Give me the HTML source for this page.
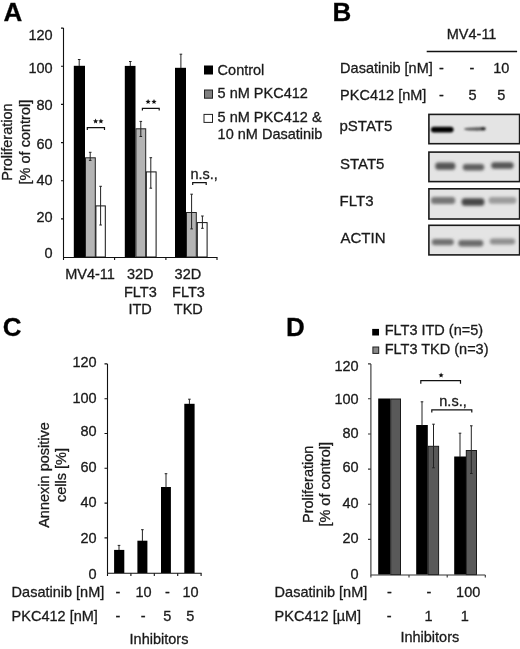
<!DOCTYPE html>
<html><head><meta charset="utf-8"><style>
html,body{margin:0;padding:0;background:#fff;}
svg{display:block;filter:grayscale(1);}
text{font-family:"Liberation Sans",sans-serif;fill:#1a1a1a;stroke:#1a1a1a;stroke-width:0.3px;}
</style></head><body>
<svg width="520" height="649" viewBox="0 0 520 649" font-size="14.5">
<defs>
<filter id="b1" x="-20%" y="-100%" width="140%" height="300%"><feGaussianBlur stdDeviation="0.8"/></filter>
<filter id="b2" x="-20%" y="-100%" width="140%" height="300%"><feGaussianBlur stdDeviation="1.4"/></filter>
<polygon id="star" fill="#111" points="0,-2.7 0.71,-0.98 2.57,-0.83 1.16,0.38 1.59,2.18 0,1.22 -1.59,2.18 -1.16,0.38 -2.57,-0.83 -0.71,-0.98"/>
<filter id="b3" x="-20%" y="-100%" width="140%" height="300%"><feGaussianBlur stdDeviation="0.9"/></filter>
</defs>
<rect x="0" y="0" width="520" height="649" fill="#fff"/>

<!-- ============ PANEL A ============ -->
<text x="3.5" y="20.5" font-size="26" font-weight="bold" style="fill:#000">A</text>
<g text-anchor="end">
<text x="52.7" y="39.7">120</text>
<text x="52.7" y="73.4">100</text>
<text x="52.7" y="110">80</text>
<text x="52.7" y="148.7">60</text>
<text x="52.7" y="185.3">40</text>
<text x="52.7" y="222.3">20</text>
<text x="52.7" y="258.4">0</text>
</g>
<g text-anchor="middle">
<text transform="translate(11.9,142.1) rotate(-90)">Proliferation</text>
<text transform="translate(29.6,142.1) rotate(-90)">[% of control]</text>
</g>
<!-- bars A -->
<g>
<rect x="73.8" y="65.8" width="11.2" height="191.2" fill="#000"/>
<rect x="85.5" y="157.8" width="9.8" height="99.2" fill="#b4b4b4" stroke="#222" stroke-width="1"/>
<rect x="95.9" y="205.9" width="9.4" height="51.1" fill="#fff" stroke="#111" stroke-width="1"/>
<rect x="124.8" y="65.9" width="10.7" height="191.1" fill="#000"/>
<rect x="135.9" y="128.8" width="9.8" height="128.2" fill="#b4b4b4" stroke="#222" stroke-width="1"/>
<rect x="146.3" y="171.9" width="9.8" height="85.1" fill="#fff" stroke="#111" stroke-width="1"/>
<rect x="175" y="67.8" width="11" height="189.2" fill="#000"/>
<rect x="186.5" y="212.5" width="9.8" height="44.5" fill="#b4b4b4" stroke="#222" stroke-width="1"/>
<rect x="197.3" y="222.6" width="9.8" height="34.4" fill="#fff" stroke="#111" stroke-width="1"/>
</g>
<!-- error bars A -->
<g stroke="#222" stroke-width="1" fill="none">
<path d="M79.2 59.5V66 M77.9 59.5H80.5"/>
<path d="M90.2 152.3V160.4 M88.9 152.3H91.5 M88.9 160.4H91.5"/>
<path d="M100.6 186.3V225 M99.3 186.3H101.9 M99.3 225H101.9"/>
<path d="M130.3 61.5V66 M129 61.5H131.6"/>
<path d="M140.8 121.4V136.5 M139.5 121.4H142.1 M139.5 136.5H142.1"/>
<path d="M150.8 157.7V188.2 M149.5 157.7H152.1 M149.5 188.2H152.1"/>
<path d="M180.9 54.2V68 M179.6 54.2H182.2"/>
<path d="M191.6 194.2V228.9 M190.3 194.2H192.9 M190.3 228.9H192.9"/>
<path d="M202.4 216V228.3 M201.1 216H203.7 M201.1 228.3H203.7"/>
</g>
<!-- axes A -->
<g stroke="#111" stroke-width="1.1" fill="none">
<path d="M63.5 28.1V257.5 M63 257.5H217.5"/>
<path d="M61 28.1H63.5 M61 66.3H63.5 M61 104.4H63.5 M61 142.6H63.5 M61 180.7H63.5 M61 218.9H63.5"/>
<path d="M63.5 257.5V260 M114.6 257.5V260 M165.9 257.5V260 M217 257.5V260"/>
</g>
<!-- brackets A -->
<g stroke="#111" stroke-width="1.2" fill="none">
<path d="M87.3 130V127.6H104.5V130"/>
<path d="M142.4 110.6V108.4H159.2V110.6"/>
<path d="M192.7 185V182.7H206.2V185"/>
</g>
<use href="#star" x="95.6" y="121.3"/><use href="#star" x="100.9" y="121.3"/>
<use href="#star" x="148.1" y="101.8"/><use href="#star" x="154" y="101.8"/>
<text x="190.5" y="179">n.s.,</text>
<g text-anchor="middle">
<text x="90" y="278.8">MV4-11</text>
<text x="140.2" y="278.8">32D</text>
<text x="140.4" y="296.5">FLT3</text>
<text x="140.1" y="314">ITD</text>
<text x="187.9" y="278.8">32D</text>
<text x="188.5" y="296.5">FLT3</text>
<text x="188.3" y="314">TKD</text>
</g>
<!-- legend A -->
<rect x="204" y="65.5" width="9" height="9" fill="#000"/>
<rect x="204.5" y="90" width="8" height="8.2" fill="#808080" stroke="#222" stroke-width="1"/>
<rect x="204" y="114.4" width="8.5" height="8" fill="#fff" stroke="#222" stroke-width="1"/>
<text x="217.6" y="74.5">Control</text>
<text x="217.6" y="98">5 nM PKC412</text>
<text x="217.6" y="122.4">5 nM PKC412 &amp;</text>
<text x="217.6" y="139.2">10 nM Dasatinib</text>

<!-- ============ PANEL B ============ -->
<text x="332.4" y="20.5" font-size="26" font-weight="bold" style="fill:#000">B</text>
<text x="471.6" y="38.7" text-anchor="middle">MV4-11</text>
<path d="M426.7 51.5H517.1" stroke="#111" stroke-width="1.4"/>
<text x="340.1" y="73">Dasatinib [nM]</text>
<text x="340.1" y="99.8">PKC412 [nM]</text>
<g text-anchor="middle">
<text x="441.3" y="73">-</text>
<text x="472" y="73">-</text>
<text x="501.3" y="73">10</text>
<text x="441.3" y="99.8">-</text>
<text x="472.6" y="99.8">5</text>
<text x="501.3" y="99.8">5</text>
</g>
<text font-size="15" x="339.5" y="131.4">pSTAT5</text>
<text font-size="15" x="340" y="168.8">STAT5</text>
<text font-size="15" x="339.6" y="206.1">FLT3</text>
<text font-size="15" x="340.5" y="242.8">ACTIN</text>
<!-- blots -->
<g fill="#e4e4e4" stroke="#1a1a1a" stroke-width="1.6">
<rect x="428.9" y="114.4" width="90.7" height="29.3"/>
<rect x="428.9" y="152.1" width="90.7" height="29.5"/>
<rect x="428.9" y="188.8" width="90.7" height="30.2"/>
<rect x="428.9" y="225.3" width="90.7" height="29.6"/>
</g>
<!-- bands -->
<g filter="url(#b1)">
<rect x="430.9" y="126.7" width="22.7" height="5.8" rx="2.9" fill="#000"/>
</g>
<g filter="url(#b3)">
<path d="M464.5 128.2 C470 127.2 477 127.2 482.5 127.2 L482.5 130.6 C477 130.8 470 130.8 464.5 129.8Z" fill="#5a5a5a"/>
<ellipse cx="483.2" cy="128.8" rx="2.6" ry="1.7" fill="#222"/>
</g>
<g filter="url(#b2)">
<rect x="435.3" y="162.4" width="20" height="7.4" rx="3" fill="#555"/>
<rect x="462.8" y="164" width="21.4" height="6.4" rx="3" fill="#5e5e5e"/>
<rect x="491.2" y="162.2" width="22.4" height="6.6" rx="3" fill="#555"/>
<rect x="431" y="197" width="24.2" height="7" rx="3" fill="#767676"/>
<rect x="461.6" y="198.2" width="22.8" height="7.6" rx="3.3" fill="#474747"/>
<rect x="488.6" y="197" width="27.8" height="6.8" rx="3" fill="#9c9c9c"/>
<rect x="431.8" y="239" width="22" height="6.2" rx="3" fill="#707070"/>
<rect x="458.3" y="240.1" width="25" height="6.4" rx="3" fill="#6a6a6a"/>
<rect x="489.8" y="238.4" width="25.4" height="6.2" rx="3" fill="#8e8e8e"/>
</g>

<!-- ============ PANEL C ============ -->
<text x="2.7" y="335.5" font-size="26" font-weight="bold" style="fill:#000">C</text>
<g text-anchor="end">
<text x="96.6" y="366.5">120</text>
<text x="96.6" y="403.1">100</text>
<text x="96.6" y="435.6">80</text>
<text x="96.6" y="471.9">60</text>
<text x="96.6" y="507.1">40</text>
<text x="96.6" y="542.9">20</text>
<text x="96.6" y="578.6">0</text>
</g>
<g text-anchor="middle">
<text transform="translate(48.7,475) rotate(-90)">Annexin positive</text>
<text transform="translate(66,475) rotate(-90)">cells [%]</text>
</g>
<g fill="#000">
<rect x="114.1" y="549.9" width="10.2" height="23.1"/>
<rect x="137.4" y="540.7" width="10" height="32.3"/>
<rect x="161" y="487" width="9.9" height="86"/>
<rect x="184.3" y="403.8" width="10.3" height="169.2"/>
</g>
<g stroke="#222" stroke-width="1" fill="none">
<path d="M119 545.4V550 M117.7 545.4H120.3"/>
<path d="M142.4 529.7V541 M141.1 529.7H143.7"/>
<path d="M166 473.7V487.5 M164.7 473.7H167.3"/>
<path d="M189.4 399.2V404 M188.1 399.2H190.7"/>
</g>
<g stroke="#111" stroke-width="1.1" fill="none">
<path d="M107.5 363.9V573.3 M107 573.3H201.6"/>
<path d="M104.5 363.9H107.5 M104.5 398.7H107.5 M104.5 433.5H107.5 M104.5 468.3H107.5 M104.5 503.1H107.5 M104.5 537.9H107.5"/>
<path d="M107.5 573.3V576 M130.9 573.3V576 M154.3 573.3V576 M177.7 573.3V576 M201.1 573.3V576"/>
</g>
<text x="11.6" y="597.2">Dasatinib [nM]</text>
<text x="11.6" y="621">PKC412 [nM]</text>
<g text-anchor="middle">
<text x="118" y="597.2">-</text>
<text x="143.6" y="597.2">10</text>
<text x="167.3" y="597.2">-</text>
<text x="190.6" y="597.2">10</text>
<text x="118" y="621">-</text>
<text x="143.2" y="621">-</text>
<text x="167.2" y="621">5</text>
<text x="190.4" y="621">5</text>
<text x="159" y="643.7">Inhibitors</text>
</g>

<!-- ============ PANEL D ============ -->
<text x="286" y="336" font-size="26" font-weight="bold" style="fill:#000">D</text>
<rect x="372.2" y="328.9" width="6.8" height="6.6" fill="#000"/>
<rect x="372.9" y="347" width="5.8" height="6.4" fill="#888" stroke="#222" stroke-width="1"/>
<text x="384.7" y="335.1">FLT3 ITD (n=5)</text>
<text x="384.7" y="354.1">FLT3 TKD (n=3)</text>
<g text-anchor="end">
<text x="358.6" y="370.9">120</text>
<text x="358.6" y="403.9">100</text>
<text x="358.6" y="437.9">80</text>
<text x="358.6" y="472.3">60</text>
<text x="358.6" y="508.0">40</text>
<text x="358.6" y="543.4">20</text>
<text x="358.6" y="578.5">0</text>
</g>
<g text-anchor="middle">
<text transform="translate(312.5,484.3) rotate(-90)">Proliferation</text>
<text transform="translate(330,484.3) rotate(-90)">[% of control]</text>
</g>
<g>
<rect x="378.2" y="398.5" width="12" height="176.1" fill="#000"/>
<rect x="390.7" y="399" width="9.8" height="175.6" fill="#595959" stroke="#1a1a1a" stroke-width="1"/>
<rect x="416.2" y="425" width="11.6" height="149.6" fill="#000"/>
<rect x="428.2" y="446.3" width="10.4" height="128.3" fill="#595959" stroke="#1a1a1a" stroke-width="1"/>
<rect x="454.2" y="456.5" width="11.8" height="118.1" fill="#000"/>
<rect x="466.3" y="450.5" width="10.2" height="124.1" fill="#595959" stroke="#1a1a1a" stroke-width="1"/>
</g>
<g stroke="#222" stroke-width="1" fill="none">
<path d="M422 401.8V425.5 M420.7 401.8H423.3"/>
<path d="M433.5 424.2V467.8 M432.2 424.2H434.8 M432.2 467.8H434.8"/>
<path d="M460 433.2V457 M458.7 433.2H461.3"/>
<path d="M471.3 425.8V473.5 M470 425.8H472.6 M470 473.5H472.6"/>
</g>
<g stroke="#333" stroke-width="1.1" fill="none">
<path d="M370.9 363.9V575 M370.4 575H485.3"/>
<path d="M368 363.9H370.9 M368 398.8H370.9 M368 434H370.9 M368 469.1H370.9 M368 504.2H370.9 M368 539.4H370.9"/>
<path d="M370.9 575V577.6 M409 575V577.6 M447.2 575V577.6 M485.3 575V577.6"/>
</g>
<g stroke="#111" stroke-width="1.2" fill="none">
<path d="M420.8 383.8V380.6H460.5V383.8"/>
<path d="M431.8 412.6V409.8H471.8V412.6"/>
</g>
<use href="#star" x="441.1" y="375.3"/>
<text x="439.3" y="406">n.s.,</text>
<text x="274.6" y="596.6">Dasatinib [nM]</text>
<text x="274.6" y="620.8">PKC412 [µM]</text>
<g text-anchor="middle">
<text x="389.4" y="596.6">-</text>
<text x="428.9" y="596.6">-</text>
<text x="468.2" y="596.6">100</text>
<text x="389.2" y="620.8">-</text>
<text x="428.5" y="620.8">1</text>
<text x="464.8" y="620.8">1</text>
<text x="429.8" y="642">Inhibitors</text>
</g>
</svg>
</body></html>
